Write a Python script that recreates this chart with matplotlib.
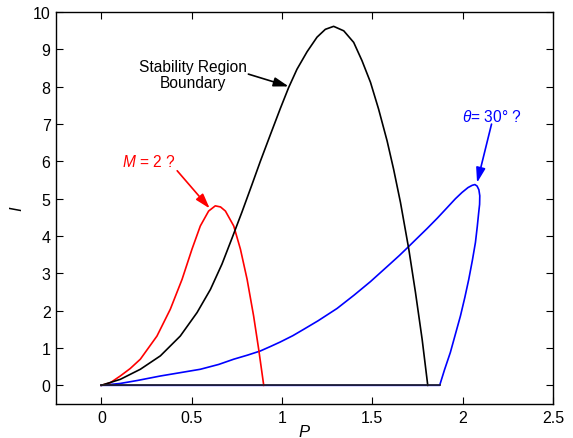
import matplotlib
matplotlib.use("Agg")
import matplotlib.pyplot as plt

plt.rcParams["font.family"] = ["Liberation Sans", "DejaVu Sans"]
plt.rcParams["mathtext.fontset"] = "custom"
plt.rcParams["mathtext.it"] = "Liberation Sans:italic"

# Stability region boundary (black)
boundary_p = [0, 0.105, 0.216, 0.327, 0.437, 0.53, 0.604, 0.668, 0.724, 0.779, 0.834,
              0.88, 0.936, 0.991, 1.037, 1.083, 1.139, 1.194, 1.24, 1.286, 1.342,
              1.397, 1.443, 1.49, 1.535, 1.582, 1.618, 1.656, 1.702, 1.739, 1.776, 1.807]
boundary_i = [0, 0.16, 0.43, 0.79, 1.32, 1.95, 2.57, 3.25, 3.95, 4.65, 5.38,
              6.0, 6.72, 7.42, 7.98, 8.47, 8.94, 9.33, 9.54, 9.62, 9.50,
              9.19, 8.70, 8.12, 7.40, 6.55, 5.79, 4.90, 3.65, 2.49, 1.23, 0]

# M = 2 curve (red)
m2_p = [0, 0.05, 0.105, 0.16, 0.216, 0.308, 0.382, 0.447, 0.502, 0.548, 0.594, 0.631,
        0.66, 0.687, 0.733, 0.77, 0.807, 0.843, 0.871, 0.899]
m2_i = [0, 0.07, 0.25, 0.45, 0.70, 1.32, 2.04, 2.84, 3.65, 4.27, 4.67, 4.81,
        4.78, 4.67, 4.27, 3.65, 2.84, 1.86, 0.97, 0]

# theta = 30 deg curve (blue), closed along I = 0
th_p = [0, 0.105, 0.2, 0.327, 0.45, 0.548, 0.65, 0.733, 0.81, 0.88, 0.936, 0.99, 1.06,
        1.12, 1.2, 1.305, 1.4, 1.49, 1.545, 1.6, 1.65, 1.693, 1.75, 1.803, 1.86, 1.914,
        1.96, 1.997, 2.03, 2.053, 2.068, 2.08, 2.09, 2.095, 2.094, 2.089, 2.081,
        2.071, 2.054, 2.034, 2.012, 1.988, 1.96, 1.932, 1.9, 1.873, 0]
th_i = [0, 0.05, 0.13, 0.25, 0.35, 0.43, 0.56, 0.70, 0.81, 0.92, 1.04, 1.16, 1.33,
        1.50, 1.73, 2.06, 2.42, 2.78, 3.02, 3.26, 3.48, 3.68, 3.95, 4.2, 4.48, 4.76,
        5.0, 5.17, 5.30, 5.36, 5.38, 5.34, 5.24, 5.08, 4.85, 4.63, 4.25,
        3.83, 3.35, 2.84, 2.35, 1.86, 1.37, 0.88, 0.42, 0, 0]

# baseline along I = 0
base_p = [0, 1.873]
base_i = [0, 0]

fig = plt.figure(figsize=(5.73, 4.39), dpi=100)
ax = fig.add_axes([0.098, 0.0775, 0.867, 0.8925])

lw = 1.2
ax.plot(th_p, th_i, color="#0000ff", lw=lw)
ax.plot(m2_p, m2_i, color="#ff0000", lw=lw)
ax.plot(boundary_p, boundary_i, color="black", lw=lw)
ax.plot(base_p, base_i, color="#222222", lw=lw)

ax.set_xlim(-0.25, 2.5)
ax.set_ylim(-0.5, 10)
ax.set_xticks([0, 0.5, 1, 1.5, 2, 2.5])
ax.set_xticklabels(["0", "0.5", "1", "1.5", "2", "2.5"])
ax.set_yticks(range(0, 11))
ax.tick_params(direction="in", top=True, right=True, length=5, width=0.8,
               labelsize=11.5, pad=4)
for s in ax.spines.values():
    s.set_linewidth(1.0)

ax.set_xlabel("$P$", fontsize=12, labelpad=-1)
ax.set_ylabel("$I$", fontsize=12, labelpad=6)

fs = 11.2
head = "-|>,head_length=0.45,head_width=0.14"

ax.text(0.507, 8.33, "Stability Region\nBoundary", ha="center", va="center",
        fontsize=fs, color="black", linespacing=1.1)
ax.annotate("", xy=(1.037, 8.01), xytext=(0.814, 8.34),
            arrowprops=dict(arrowstyle=head, color="black", lw=1.2,
                            mutation_scale=20, shrinkA=0, shrinkB=0))

ax.text(0.264, 6.01, "$M$ = 2 ?", ha="center", va="center",
        fontsize=fs, color="#ff0000")
ax.annotate("", xy=(0.60, 4.74), xytext=(0.42, 5.75),
            arrowprops=dict(arrowstyle=head, color="#ff0000", lw=1.2,
                            mutation_scale=20, shrinkA=0, shrinkB=0))

ax.text(2.163, 7.22, r"$\theta$= 30° ?", ha="center", va="center",
        fontsize=fs, color="#0000ff")
ax.annotate("", xy=(2.08, 5.43), xytext=(2.16, 7.0),
            arrowprops=dict(arrowstyle=head, color="#0000ff", lw=1.2,
                            mutation_scale=20, shrinkA=0, shrinkB=0))

fig.savefig("out.png", dpi=100)
